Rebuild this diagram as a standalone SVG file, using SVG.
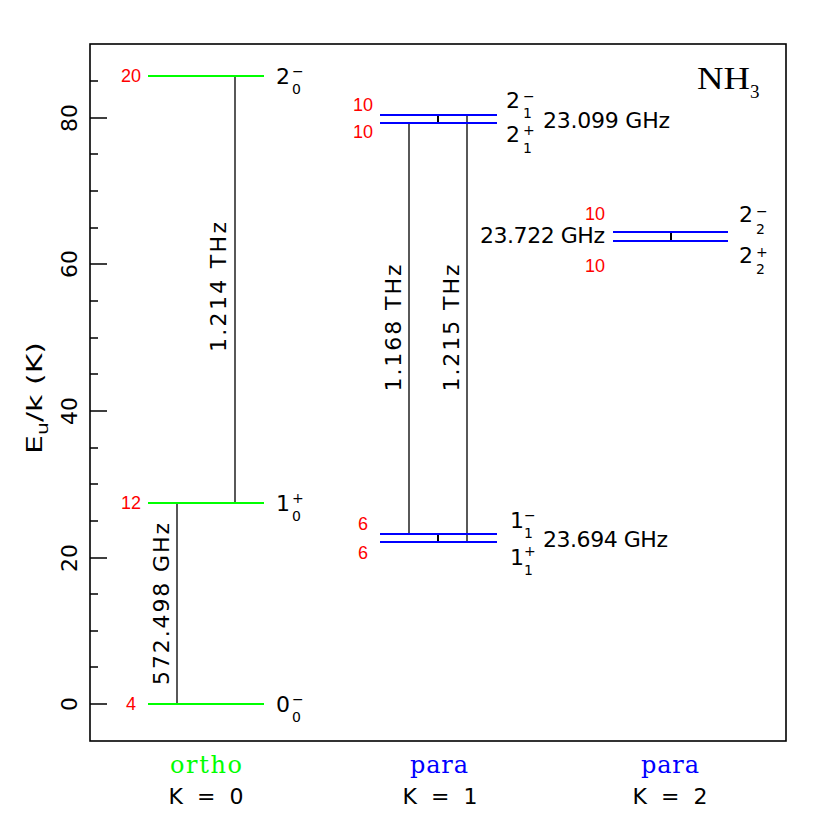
<svg xmlns="http://www.w3.org/2000/svg" width="830" height="830" viewBox="0 0 830 830">
<style>
.t{font-family:"DejaVu Sans",sans-serif;font-size:22px;fill:#000}
.s{font-family:"DejaVu Sans",sans-serif;font-size:14px;fill:#000}
.r{font-family:"Liberation Sans",sans-serif;font-size:18px;fill:#ff0000;text-anchor:middle}
.g{stroke:#00ff00;stroke-width:2}
.b{stroke:#0000ff;stroke-width:2}
.c{stroke:#000;stroke-width:1.3}
.tk{stroke:#000;stroke-width:1.3}
</style>
<rect width="830" height="830" fill="#fff"/>
<g id="frame">
<rect x="90" y="44" width="696" height="697" fill="none" stroke="#000" stroke-width="1.6"/>
<path class="tk" d="M90 704h17M90 558h17M90 411h17M90 264h17M90 118h17M90 667h8M90 631h8M90 594h8M90 521h8M90 484h8M90 448h8M90 374h8M90 338h8M90 301h8M90 228h8M90 191h8M90 154h8M90 81h8"/>
<g class="t" text-anchor="middle">
<text transform="translate(77,704) rotate(-90)">0</text>
<text transform="translate(77,558) rotate(-90)" textLength="28">20</text>
<text transform="translate(77,411) rotate(-90)" textLength="28">40</text>
<text transform="translate(77,264) rotate(-90)" textLength="28">60</text>
<text transform="translate(77,118) rotate(-90)" textLength="28">80</text>
</g>
<text class="t" transform="translate(42,398) rotate(-90)" text-anchor="middle" font-size="23" textLength="112" lengthAdjust="spacingAndGlyphs">E<tspan font-size="15" dy="6">u</tspan><tspan dy="-6">/k (K)</tspan></text>
<text x="697" y="89" font-family="Liberation Serif, serif" font-size="31" textLength="53" lengthAdjust="spacingAndGlyphs">NH</text>
<text x="750" y="98" font-family="Liberation Serif, serif" font-size="19">3</text>
</g>
<g id="connectors">
<path class="c" d="M235 76V503M177 503V704M409 123V534M467 115V542"/>
<path stroke="#000" stroke-width="2" d="M438 115V123M438 534V542M671 232V241"/>
</g>
<g id="ortho">
<path class="g" d="M148 76H264M148 503H264M148 704H264"/>
<text class="r" x="131" y="82">20</text>
<text class="r" x="131" y="509">12</text>
<text class="r" x="131" y="710">4</text>
<text class="t" x="276" y="84">2</text><text class="s" x="292" y="94">0</text><text class="s" x="292" y="76">−</text>
<text class="t" x="276" y="511">1</text><text class="s" x="292" y="521">0</text><text class="s" x="292" y="503">+</text>
<text class="t" x="276" y="712">0</text><text class="s" x="292" y="722">0</text><text class="s" x="292" y="704">−</text>
<text class="t" transform="translate(226,287) rotate(-90)" text-anchor="middle" textLength="130">1.214 THz</text>
<text class="t" transform="translate(169,604) rotate(-90)" text-anchor="middle" textLength="162">572.498 GHz</text>
</g>
<g id="para1">
<path class="b" d="M380 115H497M380 123H497M380 534H497M380 542H497"/>
<text class="r" x="363" y="111">10</text>
<text class="r" x="363" y="138">10</text>
<text class="r" x="363" y="530">6</text>
<text class="r" x="363" y="559">6</text>
<text class="t" x="506" y="108">2</text><text class="s" x="523" y="118">1</text><text class="s" x="523" y="101">−</text>
<text class="t" x="506" y="142">2</text><text class="s" x="523" y="153">1</text><text class="s" x="523" y="135">+</text>
<text class="t" x="510" y="528">1</text><text class="s" x="524" y="538">1</text><text class="s" x="524" y="520">−</text>
<text class="t" x="510" y="565">1</text><text class="s" x="524" y="575">1</text><text class="s" x="524" y="556">+</text>
<text class="t" x="543" y="128" textLength="127">23.099 GHz</text>
<text class="t" x="543" y="547" textLength="125">23.694 GHz</text>
<text class="t" transform="translate(401,328) rotate(-90)" text-anchor="middle" textLength="127">1.168 THz</text>
<text class="t" transform="translate(459,328) rotate(-90)" text-anchor="middle" textLength="127">1.215 THz</text>
</g>
<g id="para2">
<path class="b" d="M613 232H728M613 241H728"/>
<text class="r" x="595" y="220">10</text>
<text class="r" x="595" y="272">10</text>
<text class="t" x="739" y="222">2</text><text class="s" x="756" y="234">2</text><text class="s" x="756" y="216">−</text>
<text class="t" x="739" y="263">2</text><text class="s" x="756" y="274">2</text><text class="s" x="756" y="257">+</text>
<text class="t" x="480" y="243" textLength="125">23.722 GHz</text>
</g>
<g id="labels" font-family="DejaVu Serif, serif" font-size="24" text-anchor="middle">
<text x="206" y="773" fill="#00ff00" textLength="72">ortho</text>
<text x="439" y="773" fill="#0000ff" textLength="58">para</text>
<text x="670" y="773" fill="#0000ff" textLength="58">para</text>
<text class="t" x="206" y="804" textLength="75">K = 0</text>
<text class="t" x="440" y="804" textLength="75">K = 1</text>
<text class="t" x="670" y="804" textLength="75">K = 2</text>
</g>
</svg>
